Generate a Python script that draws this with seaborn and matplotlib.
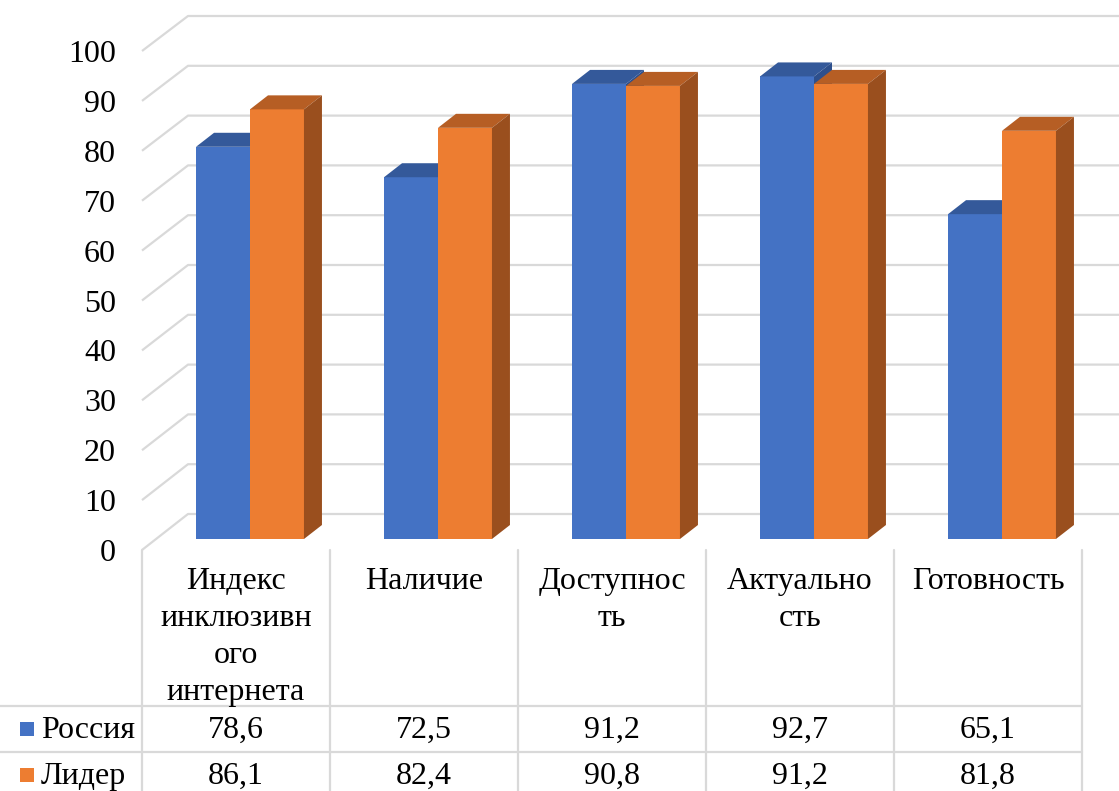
import numpy as np
import pandas as pd
import matplotlib
matplotlib.use("Agg")
import matplotlib.pyplot as plt
import seaborn as sns
from matplotlib.patches import Polygon, Rectangle

# ---------------- data ----------------
categories = ["Индекс инклюзивного интернета", "Наличие", "Доступность",
              "Актуальность", "Готовность"]
category_label_lines = [["Индекс", "инклюзивн", "ого", "интернета"],
                        ["Наличие"],
                        ["Доступнос", "ть"],
                        ["Актуально", "сть"],
                        ["Готовность"]]
series_names = ["Россия", "Лидер"]
russia = [78.6, 72.5, 91.2, 92.7, 65.1]
leader = [86.1, 82.4, 90.8, 91.2, 81.8]
y_ticks = [0, 10, 20, 30, 40, 50, 60, 70, 80, 90, 100]

# ---------------- style ----------------
W, H = 1119, 791
BLUE, ORANGE = "#4472C4", "#ED7D31"
BLUE_TOP, BLUE_SIDE = "#34599A", "#2D4F8C"
ORANGE_TOP, ORANGE_SIDE = "#B65E24", "#9A4F1E"
GRID = "#D9D9D9"
FS = 23

sns.set_theme(style="white")
plt.rcParams["font.family"] = ["Liberation Serif", "DejaVu Serif"]

fig = plt.figure(figsize=(W / 100, H / 100), dpi=100)
ax = fig.add_axes([0, 0, 1, 1])

# pixel layout helpers (image pixels -> data coords)
X0, XS = 250.0, 188.0      # category 0 front centre, px per category
Y0, YS = 539.0, 4.99       # value 0 at bar front plane, px per unit


def P(px, py):
    return ((px - X0) / XS, (Y0 - py) / YS)


df = pd.DataFrame({
    "cat": categories * 2,
    "series": [series_names[0]] * len(categories) + [series_names[1]] * len(categories),
    "value": russia + leader,
})

sns.barplot(data=df, x="cat", y="value", hue="series", order=categories,
            hue_order=series_names, palette=[BLUE, ORANGE], width=0.574,
            errorbar=None, legend=False, saturation=1, linewidth=0, ax=ax)

ax.set_xlim(P(0, 0)[0], P(W, 0)[0])
ax.set_ylim(P(0, H)[1], P(0, 0)[1])
ax.axis("off")

# ---------------- walls / gridlines ----------------
xf, _ = P(142, 0)
xb, _ = P(188, 0)
xr = P(W, 0)[0]
for v in y_ticks:
    yf = (Y0 - (550 - YS * v)) / YS
    yb = (Y0 - (514 - 4.98 * v)) / YS
    ax.plot([xf, xb, xr], [yf, yb, yb], color=GRID, lw=1.6, zorder=1,
            solid_capstyle="butt", clip_on=False)
    xt, yt = P(116, 550 - YS * v + 11)
    ax.text(xt, yt, str(v), ha="right", va="baseline", fontsize=FS,
            color="#000000")

# ---------------- 3D faces on the bars ----------------
dx = 18 / XS
dy = 14 / YS
n = len(categories)
for k, p in enumerate(ax.patches):
    x0, w, h = p.get_x(), p.get_width(), p.get_height()
    is_blue = k < n
    base_z = 3 if is_blue else 4
    p.set_zorder(base_z)
    top_c = BLUE_TOP if is_blue else ORANGE_TOP
    side_c = BLUE_SIDE if is_blue else ORANGE_SIDE
    top = Polygon([(x0, h), (x0 + w, h), (x0 + w + dx, h + dy), (x0 + dx, h + dy)],
                  closed=True, facecolor=top_c, edgecolor="none", zorder=base_z + 0.1)
    side = Polygon([(x0 + w, 0), (x0 + w + dx, dy), (x0 + w + dx, h + dy), (x0 + w, h)],
                   closed=True, facecolor=side_c, edgecolor="none", zorder=base_z + 0.1)
    ax.add_patch(top)
    ax.add_patch(side)

# ---------------- data table ----------------
col_edges = [142 + 188 * i for i in range(n + 1)]
for xe in col_edges:
    (a, b), (c, d) = P(xe, 550), P(xe, H)
    ax.plot([a, c], [b, d], color=GRID, lw=1.6, zorder=1, clip_on=False)
for ye in [706, 752]:
    (a, b), (c, d) = P(0, ye), P(col_edges[-1], ye)
    ax.plot([a, c], [b, d], color=GRID, lw=1.6, zorder=1, clip_on=False)

for i, lines in enumerate(category_label_lines):
    cx = 236 + 188 * i
    for j, line in enumerate(lines):
        tx, ty = P(cx, 589 + 37 * j)
        ax.text(tx, ty, line, ha="center", va="baseline", fontsize=FS, color="#000000")

for r, (name, vals, col) in enumerate(zip(series_names, [russia, leader], [BLUE, ORANGE])):
    base = 738 + 46 * r
    sx0, sy0 = P(20, base - 2)
    sx1, sy1 = P(34, base - 16)
    ax.add_patch(Rectangle((sx0, sy0), sx1 - sx0, sy1 - sy0, facecolor=col,
                           edgecolor="none", clip_on=False, zorder=5))
    tx, ty = P(41, base)
    ax.text(tx, ty, name, ha="left", va="baseline", fontsize=FS, color="#000000")
    for i, v in enumerate(vals):
        tx, ty = P(236 + 188 * i, base)
        ax.text(tx, ty, f"{v:.1f}".replace(".", ","), ha="center", va="baseline",
                fontsize=FS, color="#000000")

fig.savefig("out.png", dpi=100, facecolor="white")
